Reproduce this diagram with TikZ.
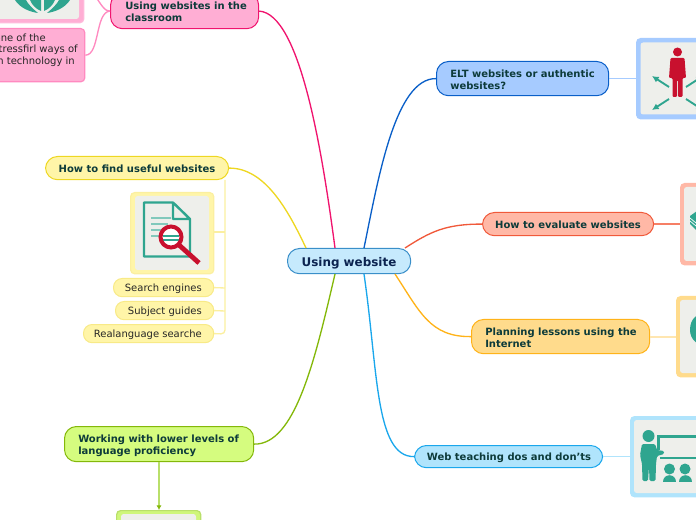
\documentclass[tikz,border=0pt]{standalone}
\usepackage{fontspec}
\setmainfont{DejaVu Sans}
\definecolor{tealtx}{HTML}{0D3B3A}
\definecolor{teal1}{HTML}{2FA58F}
\definecolor{red1}{HTML}{C8102E}
\definecolor{panel}{HTML}{EEEFEB}
\definecolor{pinkL}{HTML}{F0146E}\definecolor{pinkF}{HTML}{FFAED4}\definecolor{pinkS}{HTML}{FF8AC0}\definecolor{pinkB}{HTML}{FFB8DA}
\definecolor{blueL}{HTML}{0A5FC8}\definecolor{blueF}{HTML}{A6CBFF}\definecolor{blueS}{HTML}{A6CBFF}
\definecolor{redL}{HTML}{F0593A}\definecolor{redF}{HTML}{FFB8A6}\definecolor{redS}{HTML}{FFB8A6}
\definecolor{oraL}{HTML}{FFB319}\definecolor{oraF}{HTML}{FFDB8C}\definecolor{oraS}{HTML}{FFE6B0}
\definecolor{skyL}{HTML}{1AA7EC}\definecolor{skyF}{HTML}{B0E4FC}\definecolor{skyS}{HTML}{B0E4FC}
\definecolor{yelL}{HTML}{EED722}\definecolor{yelF}{HTML}{FFF5A8}\definecolor{yelS}{HTML}{FBEFA0}
\definecolor{greL}{HTML}{84B80A}\definecolor{greF}{HTML}{D5FC7F}\definecolor{greS}{HTML}{B9DF6A}
\definecolor{cenF}{HTML}{C6EAFD}\definecolor{cenL}{HTML}{3A8FC9}\definecolor{cenT}{HTML}{0B2350}
\tikzset{
  px/.style={x=0.75pt,y=-0.75pt},
  pill/.style={draw,line width=0.75pt,rounded corners=9pt,inner sep=0pt,text=tealtx},
  minipill/.style={draw,line width=0.75pt,rounded corners=6.5pt,inner sep=0pt},
  branch/.style={line width=1pt},
  twig/.style={line width=1pt},
  imgbox/.style={draw,line width=0.9pt,rounded corners=3pt,inner sep=0pt},
  inpanel/.style={fill=panel,rounded corners=2pt},
  boxt/.style={font=\fontsize{7.5pt}{9pt}\selectfont\bfseries,align=left,text=tealtx,inner sep=0pt},
  smallt/.style={font=\fontsize{7.5pt}{9pt}\selectfont,text=black!85,inner sep=0pt},
}
\newcommand{\boxat}[6]{% name x1 y1 x2 y2 style
  \path let \p1=(#2,#3),\p2=(#4,#5) in node[#6,minimum width=\x2-\x1-0.6pt,minimum height=\y1-\y2-0.6pt,anchor=north west] (#1) at (#2,#3) {};}
\usetikzlibrary{calc,arrows.meta}
\begin{document}
\begin{tikzpicture}[px]
\useasboundingbox (0,0) rectangle (696,520);
\clip (0,0) rectangle (696,520);
% nodes
\boxat{center}{287}{248}{411}{274}{pill,draw=cenL,fill=cenF}
\boxat{pink}{110}{-7}{259}{29}{pill,draw=pinkL,fill=pinkF}
\boxat{blue}{436}{61}{609}{96}{pill,draw=blueL,fill=blueF}
\boxat{redn}{482}{212}{654}{236}{pill,draw=redL,fill=redF}
\boxat{ora}{471}{319}{650}{354}{pill,draw=oraL,fill=oraF}
\boxat{sky}{414}{445}{603}{468}{pill,draw=skyL,fill=skyF}
\boxat{yel}{45}{156}{229}{180}{pill,draw=yelL,fill=yelF}
\boxat{gre}{64}{426}{254}{462}{pill,draw=greL,fill=greF}
\boxat{s1}{113}{278}{214}{297}{minipill,draw=yelS!80!yelL,fill=yelF}
\boxat{s2}{115}{301}{214}{320}{minipill,draw=yelS!80!yelL,fill=yelF}
\boxat{s3}{83}{324}{214}{343}{minipill,draw=yelS!80!yelL,fill=yelF}
\boxat{pinkimg}{-8}{-60}{84}{23}{imgbox,draw=pinkB,fill=pinkF}
\boxat{pinktxt}{-60}{28}{85}{82}{imgbox,draw=pinkS,fill=pinkF}
\boxat{blueimg}{636}{38}{760}{119}{imgbox,draw=blueS,fill=blueF}
\boxat{redimg}{680}{183}{780}{265}{imgbox,draw=redS,fill=redF}
\boxat{oraimg}{676}{296}{780}{377}{imgbox,draw=oraF,fill=oraF}
\boxat{skyimg}{630}{416}{760}{497}{imgbox,draw=skyS,fill=skyF}
\boxat{yelimg}{130}{192}{214}{274}{imgbox,draw=yelS,fill=yelF}
\boxat{greimg}{116}{510}{201}{600}{imgbox,draw=greS,fill=greF!80!greS}
% anchor coordinates on the central node
\coordinate (cN1) at (335,248);\coordinate (cN2) at (364,248);\coordinate (cN3) at (306,248);
\coordinate (cE1) at (405,248);\coordinate (cS1) at (395,274);\coordinate (cS2) at (364,274);\coordinate (cS3) at (335,274);
% branches
\draw[branch,pinkL] (cN1) .. controls (322,150) and (300,14) .. (pink.east);
\draw[branch,blueL] (cN2) .. controls (378,180) and (395,78) .. (blue.west);
\draw[branch,yelL] (cN3) .. controls (288,210) and (265,168) .. (yel.east);
\draw[branch,redL] (cE1) .. controls (430,232) and (445,224) .. (redn.west);
\draw[branch,oraL] (cS1) .. controls (420,312) and (430,337) .. (ora.west);
\draw[branch,skyL] (cS2) .. controls (378,370) and (375,457) .. (sky.west);
\draw[branch,greL] (cS3) .. controls (315,360) and (295,445) .. (gre.east);
% twigs
\draw[twig,blueS] (blue.east) -- (blueimg.west|-blue.east);
\draw[twig,redL!60!redS] (redn.east) -- (redimg.west|-redn.east);
\draw[line width=1.4pt,oraS] (ora.east) -- (oraimg.west|-ora.east);
\draw[line width=1.2pt,skyS] (sky.east) -- (skyimg.west|-sky.east);
\draw[twig,pinkS] (pink.west) .. controls (95,12) and (100,55) .. (pinktxt.east);
\draw[twig,pinkS] (pink.west) .. controls (105,12) and (100,3) .. (96,-3);
\coordinate (ytop) at (225,180);
\draw[twig,yelS,rounded corners=3pt] (ytop) -- (225,334) -- (s3.east);
\draw[twig,yelS] (225,232) -- (yelimg.east|-225,232);
\draw[twig,yelS] (225,311) -- (s2.east);
\draw[twig,yelS] (225,288) -- (s1.east);
\draw[line width=1.2pt,greS,-{Latex[length=3.5pt,width=4pt,color=greL]}] (gre.south-|159,0) -- (greimg.north-|159,0);
% labels
\node[font=\fontsize{8.95pt}{11pt}\selectfont\bfseries,text=cenT,inner sep=0pt] at (349,263) {Using website};
\node[boxt,anchor=west] at (125,12) {Using websites in the\\classroom};
\node[boxt,anchor=west] at (450,80) {ELT websites or authentic\\websites?};
\node[boxt] at (568,224.5) {How to evaluate websites};
\node[boxt,anchor=west] at (485,338) {Planning lessons using the\\Internet};
\node[boxt] at (509,458) {Web teaching dos and don'ts};
\node[boxt] at (137,168.5) {How to find useful websites};
\node[boxt,anchor=west] at (78,445.5) {Working with lower levels of\\language proficiency};
\node[smallt,anchor=east] at (202,289) {Search engines};
\node[smallt,anchor=east] at (202,312) {Subject guides};
\node[smallt,anchor=east] at (202,335) {Realanguage searche};
\node[smallt,anchor=east] at (46,37.5) {one of the};
\node[smallt,anchor=east] at (78,49.5) {stressfirl ways of};
\node[smallt,anchor=east] at (75,61.5) {in technology in};
% pink image
\fill[inpanel] (-3,-50) rectangle (79,19);
\fill[teal1] (15,0) .. controls (20,8) and (30,12) .. (38,13) .. controls (32,8) and (28,4) .. (26,0) -- cycle;
\fill[teal1] (70,0) .. controls (65,8) and (55,12) .. (47,13) .. controls (53,8) and (57,4) .. (59,0) -- cycle;
\fill[teal1] (30,0) .. controls (32,5) and (36,9) .. (41,11) -- (41,0) -- cycle;
\fill[teal1] (55,0) .. controls (53,5) and (49,9) .. (44,11) -- (44,0) -- cycle;
% blue image: person with arrows
\fill[inpanel] (640.5,42.5) rectangle (720,114.5);
\fill[red1] (677.5,52) circle (4.5);
\fill[red1,rounded corners=0.8pt] (670.5,58) -- (684.5,58) -- (686,78) -- (682.5,78) -- (682.5,97) -- (678,97) -- (678,80) -- (677,80) -- (677,97) -- (672.5,97) -- (672.5,78) -- (669,78) -- cycle;
\draw[teal1,line width=1.4pt,-{Latex[length=5pt,width=5pt]}] (669,87) -- (652,76);
\draw[teal1,line width=1.4pt,-{Latex[length=5pt,width=5pt]}] (669,99) -- (652,110);
\draw[teal1,line width=1.4pt,-{Latex[length=5pt,width=5pt]}] (686,87) -- (703,76);
\draw[teal1,line width=1.4pt,-{Latex[length=5pt,width=5pt]}] (686,99) -- (703,110);
% red image
\fill[inpanel] (684,187) rectangle (760,261);
\fill[teal1] (690,216) -- (697,211) -- (700,214) -- (700,233) -- (696,230) -- (690,224) -- cycle;
\draw[white,line width=0.5pt] (690,218) -- (696,223) (690,221) -- (696,226);
% orange image
\fill[inpanel] (680,300) rectangle (760,373);
\fill[teal1] (690,330) .. controls (690,318) and (698,313) .. (706,313) -- (706,347) .. controls (698,345) and (690,340) .. (690,330) -- cycle;
% sky image
\fill[inpanel] (634,420) rectangle (760,493);
\draw[teal1,line width=2.2pt] (658.5,450) -- (658.5,436.5) -- (720,436.5) (720,458) -- (660,458);
\fill[teal1] (648.5,436) circle (6);
\fill[teal1,rounded corners=1pt] (642,444) -- (655,444) -- (657,450) -- (664,451) -- (664,454) -- (657,456) -- (656,464) -- (655.5,481) -- (649.5,481) -- (649,466) -- (648,481) -- (642.5,481) -- (642,464) -- (640,455) -- cycle;
\fill[teal1] (669.5,469) circle (5.5) (685,469) circle (5.5);
\fill[teal1] (663,482) .. controls (663,473) and (676,473) .. (676,482) -- cycle;
\fill[teal1] (678.5,482) .. controls (678.5,473) and (691.5,473) .. (691.5,482) -- cycle;
% yellow image
\fill[inpanel] (135,196) rectangle (209,270);
\draw[teal1,line width=1.8pt,line join=round] (173,202.5) -- (144,202.5) -- (144,256.5) -- (190,256.5) -- (190,219) -- (173,202.5) -- (173,219) -- (190,219);
\draw[teal1!60,line width=0.8pt] (151,218) -- (171,218) (151,224) -- (168,224) (151,230) -- (165,230) (151,236) -- (160,236);
\fill[white] (171,237) circle (11);
\draw[teal1,line width=1pt] (163,236) -- (179,236) (163,240) -- (179,240);
\draw[red1,line width=3pt] (171,237) circle (10.5);
\draw[red1,line width=3.6pt] (179,245) -- (199,263);
% green image
\fill[inpanel] (121,514) rectangle (196,600);
\end{tikzpicture}
\end{document}
